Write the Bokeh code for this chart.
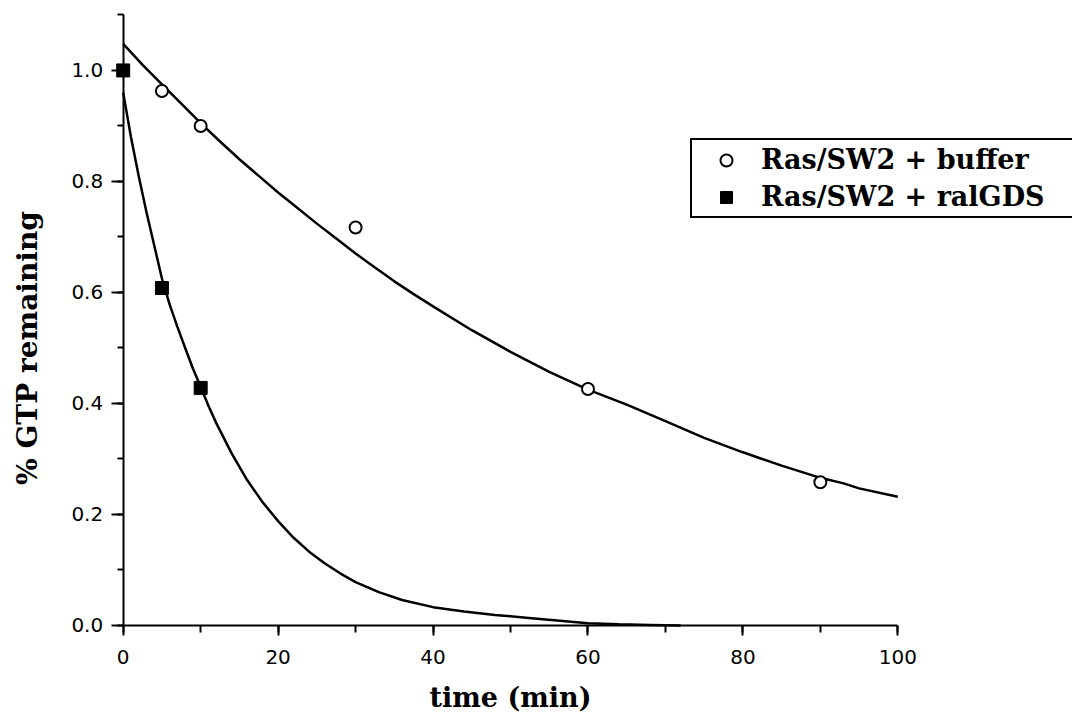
from bokeh.plotting import figure
from bokeh.models import (Legend, LegendItem, SingleIntervalTicker, PrintfTickFormatter, Range1d,
                          LinearAxis, FixedTicker)
from bokeh.embed import file_html
from bokeh.resources import INLINE

# measured points
time_buffer = [5, 10, 30, 60, 90]
gtp_buffer = [0.963, 0.900, 0.717, 0.426, 0.258]
time_ralgds = [0, 5, 10]
gtp_ralgds = [1.0, 0.608, 0.428]

# fitted curves
fit_time_buffer = [0, 2.5, 5, 7.5, 10, 12.5, 15, 17.5, 20, 22.5, 25, 27.5, 30, 32.5, 35, 37.5, 40,
                   45, 50, 55, 60, 65, 70, 75, 80, 85, 90, 93, 95, 100]
fit_gtp_buffer = [1.048, 1.010, 0.975, 0.940, 0.905, 0.872, 0.840, 0.810, 0.780, 0.752, 0.724,
                  0.697, 0.670, 0.645, 0.620, 0.597, 0.575, 0.532, 0.493, 0.457, 0.425, 0.398,
                  0.368, 0.338, 0.312, 0.288, 0.266, 0.256, 0.247, 0.232]
fit_time_ralgds = [0, 1, 2, 3, 4, 5, 6, 7, 8, 9, 10, 11, 12, 14, 16, 18, 20, 22, 24, 26, 28, 30,
                   33, 36, 40, 44, 48, 52, 56, 60, 64, 68, 72]
fit_gtp_ralgds = [0.960, 0.880, 0.810, 0.745, 0.685, 0.625, 0.578, 0.538, 0.500, 0.463, 0.430,
                  0.396, 0.365, 0.310, 0.262, 0.222, 0.188, 0.158, 0.133, 0.112, 0.094, 0.078,
                  0.060, 0.046, 0.033, 0.025, 0.019, 0.014, 0.009, 0.004, 0.002, 0.001, 0.0]

x_ticks_interval = 20
y_ticks_interval = 0.2
x_axis_extent = (0, 100)
y_axis_extent = (0, 1.1)
y_title_span = (0, 1.0)

SERIF = "DejaVu Serif"
SANS = "DejaVu Sans"

p = figure(width=1072, height=716, x_range=Range1d(-15.84, 122.55), y_range=Range1d(-0.164, 1.126),
           output_backend="svg", toolbar_location=None,
           min_border_left=0, min_border_right=0, min_border_top=0, min_border_bottom=0)
p.outline_line_color = None
p.grid.visible = False
p.background_fill_color = "white"

xa = p.xaxis[0]
xa.ticker = SingleIntervalTicker(interval=x_ticks_interval, num_minor_ticks=2)
xa.bounds = x_axis_extent
xa.axis_label = "time (min)"
xa.fixed_location = 0
ya = p.yaxis[0]
ya.ticker = SingleIntervalTicker(interval=y_ticks_interval, num_minor_ticks=2)
ya.formatter = PrintfTickFormatter(format="%.1f")
ya.bounds = y_axis_extent
ya.fixed_location = 0

for ax in (xa, ya):
    ax.axis_line_color = "black"
    ax.axis_line_width = 2
    ax.major_tick_line_width = 2
    ax.minor_tick_line_width = 2
    ax.major_tick_line_color = "black"
    ax.minor_tick_line_color = "black"
    ax.major_tick_in = 0
    ax.minor_tick_in = 0
    ax.major_label_text_font = SANS
    ax.major_label_text_font_size = "20px"
    ax.major_label_text_color = "black"
    ax.axis_label_text_font = SERIF
    ax.axis_label_text_font_style = "bold"
    ax.axis_label_text_color = "black"

xa.axis_label_text_font_size = "27px"
xa.major_tick_out = 10
xa.minor_tick_out = 7
xa.major_label_standoff = 15
xa.axis_label_standoff = 14
ya.major_tick_out = 12
ya.minor_tick_out = 6
ya.major_label_standoff = 8

# y-axis title, carried by a line-less companion axis so that it sits where the reference has it
ytitle = LinearAxis(fixed_location=0, bounds=y_title_span, ticker=FixedTicker(ticks=[]),
                    axis_label="% GTP remaining", axis_line_color=None,
                    major_tick_line_color=None, minor_tick_line_color=None,
                    major_tick_out=0, minor_tick_out=0, major_tick_in=0, minor_tick_in=0,
                    major_label_standoff=0, axis_label_standoff=80,
                    axis_label_text_font=SERIF, axis_label_text_font_style="bold",
                    axis_label_text_font_size="28px", axis_label_text_color="black")
p.add_layout(ytitle, "left")

p.line(fit_time_buffer, fit_gtp_buffer, line_color="black", line_width=2.5)
p.line(fit_time_ralgds, fit_gtp_ralgds, line_color="black", line_width=2.5)
r_buf = p.scatter(time_buffer, gtp_buffer, marker="circle", size=12, fill_color="white",
                  line_color="black", line_width=2)
r_ral = p.scatter(time_ralgds, gtp_ralgds, marker="square", size=13, fill_color="black",
                  line_color="black", line_width=1)

legend = Legend(items=[LegendItem(label="Ras/SW2 + buffer", renderers=[r_buf]),
                       LegendItem(label="Ras/SW2 + ralGDS", renderers=[r_ral])],
                location=(690, 498), margin=0, padding=4, spacing=6,
                glyph_width=60, glyph_height=30, label_height=30, label_standoff=5,
                label_width=317,
                label_text_font=SERIF, label_text_font_style="bold",
                label_text_font_size="27px", label_text_color="black",
                border_line_color="black", border_line_width=2, border_line_alpha=1.0,
                background_fill_color="white", background_fill_alpha=1.0)
p.add_layout(legend, "center")

open("out.html", "w").write(file_html(p, INLINE))
